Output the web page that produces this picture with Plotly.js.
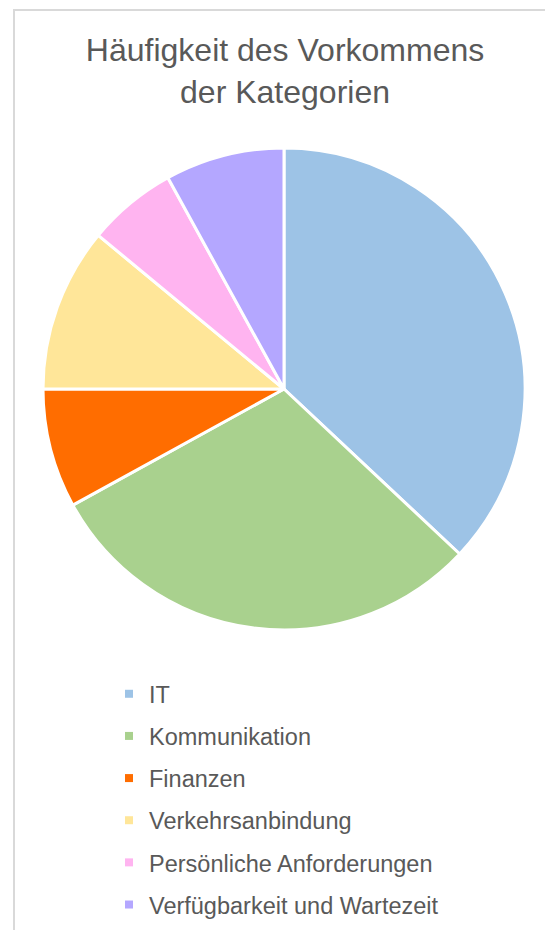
<!DOCTYPE html>
<html>
<head>
<meta charset="utf-8">
<script src="https://cdn.plot.ly/plotly-3.0.1.min.js"></script>
<style>
  html, body { margin: 0; padding: 0; background: #ffffff; }
  #wrap { position: relative; width: 545px; height: 930px; overflow: hidden; }
  #frame { position: absolute; left: 13px; top: 9px; right: -10px; bottom: -10px;
           border-left: 2px solid #d9d9d9; border-top: 2px solid #d9d9d9; pointer-events: none; }
  #chart { position: absolute; left: 0; top: 0; width: 545px; height: 930px; }
</style>
</head>
<body>
<div id="wrap">
  <div id="frame"></div>
  <div id="chart"></div>
</div>
<script>
const categories = ["IT", "Kommunikation", "Finanzen", "Verkehrsanbindung", "Persönliche Anforderungen", "Verfügbarkeit und Wartezeit"];
const counts = [37, 30, 8, 11, 6, 8];
const colors = ["#9DC3E6", "#A9D18E", "#FF6D00", "#FFE699", "#FFB4F0", "#B4A7FF"];
const titleText = "Häufigkeit des Vorkommens<br>der Kategorien";

const W = 545, H = 930;
const FONT = "Liberation Sans";
const pie = {
  type: "pie",
  labels: categories,
  values: counts,
  sort: false,
  direction: "clockwise",
  rotation: 0,
  marker: { colors: colors, line: { color: "#ffffff", width: 3 } },
  textinfo: "none",
  hoverinfo: "label+value+percent",
  showlegend: false,
  domain: { x: [43 / W, 525 / W], y: [1 - 630 / H, 1 - 148 / H] }
};

const legendTraces = categories.map((c, i) => ({
  type: "scatter",
  mode: "markers",
  x: [null], y: [null],
  name: c,
  legendgroup: "g" + i,
  marker: { symbol: "square", size: 8, color: colors[i] },
  hoverinfo: "skip"
}));

const layout = {
  width: W, height: H,
  margin: { l: 0, r: 0, t: 0, b: 0 },
  paper_bgcolor: "rgba(0,0,0,0)",
  plot_bgcolor: "rgba(0,0,0,0)",
  font: { family: FONT, color: "#595959" },
  title: {
    text: titleText,
    font: { size: 32, color: "#595959", family: FONT },
    x: 0.523, xanchor: "center",
    y: 1 - 61 / H, yanchor: "top", yref: "container"
  },
  xaxis: { visible: false, domain: [0, 0.01] },
  yaxis: { visible: false, domain: [0, 0.01] },
  showlegend: true,
  legend: {
    x: 109 / W, xanchor: "left",
    y: 1 - 672 / H, yanchor: "top",
    traceorder: "grouped",
    tracegroupgap: 8.6,
    font: { size: 23.5, color: "#595959", family: FONT },
    bgcolor: "rgba(0,0,0,0)"
  }
};

Plotly.newPlot("chart", [pie].concat(legendTraces), layout, { displayModeBar: false, staticPlot: true });
</script>
</body>
</html>
